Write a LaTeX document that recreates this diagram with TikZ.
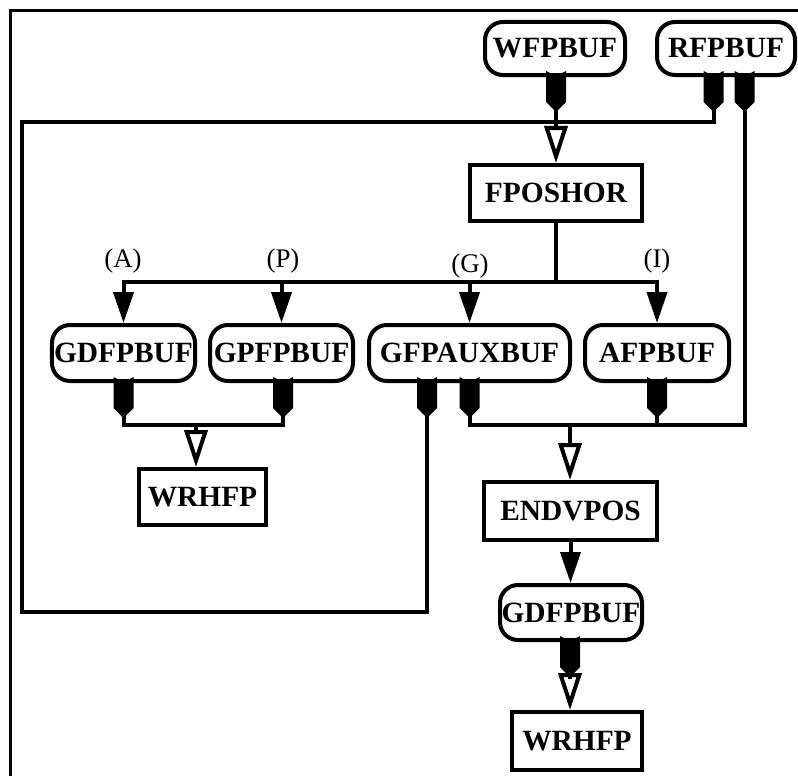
\documentclass[tikz,border=0pt]{standalone}
\usepackage{fontspec}
\setmainfont{Liberation Serif}
\usetikzlibrary{arrows.meta}
\tikzset{
  bx/.style={draw, line width=4bp, font=\bfseries\fontsize{29.5}{31}\selectfont, inner sep=0pt, align=center},
  rbox/.style={bx, rounded corners=18bp},
  sbox/.style={bx},
  conn/.style={line width=4bp, line cap=rect, line join=miter},
  filledarr/.style={conn, -{Triangle[width=20bp,length=31bp]}},
  openarr/.style={conn, -{Triangle[open,width=23bp,length=37bp]}},
  lbl/.style={font=\fontsize{27}{29}\selectfont, inner sep=0pt},
  outport/.pic={
    \fill (-10,-6) -- (0,-1) -- (10,-6) -- (10,25) -- (0,35) -- (-10,25) -- cycle;
    \coordinate (-tip) at (0,35);
  }
}
\begin{document}
\begin{tikzpicture}[x=1bp,y=-1bp]
\useasboundingbox (0,0) rectangle (798,776);
% frame
\draw[line width=3bp] (10.5,776) -- (10.5,11) -- (798,11);

% nodes
\node[rbox, minimum width=140bp, minimum height=53bp] (WFP) at (555,48.5) {WFPBUF};
\node[rbox, minimum width=138bp, minimum height=53bp] (RFP) at (726,48.5) {RFPBUF};
\node[sbox, minimum width=172bp, minimum height=56bp] (FPOS) at (556,193) {FPOSHOR};
\node[rbox, minimum width=143bp, minimum height=56bp] (GDFP) at (123.5,353) {GDFPBUF};
\node[rbox, minimum width=143bp, minimum height=56bp] (GPFP) at (281.5,353) {GPFPBUF};
\node[rbox, minimum width=201bp, minimum height=56bp] (GFPAUX) at (469.5,353) {GFPAUXBUF};
\node[rbox, minimum width=144bp, minimum height=56bp] (AFP) at (657,353) {AFPBUF};
\node[sbox, minimum width=127bp, minimum height=56bp] (WR) at (202.5,497) {WRHFP};
\node[sbox, minimum width=173bp, minimum height=58bp] (ENDV) at (570.5,511) {ENDVPOS};
\node[rbox, minimum width=142bp, minimum height=55bp] (GD2) at (571,612.5) {GDFPBUF};
\node[sbox, minimum width=130bp, minimum height=58bp] (WR2) at (577,741) {WRHFP};

% labels
\node[lbl] (lA) at (123,261) {(A)};
\node[lbl] (lP) at (283,261) {(P)};
\node[lbl] (lG) at (470,266) {(G)};
\node[lbl] (lI) at (657,261) {(I)};

% ports
\pic (pW) at ([xshift=1bp]WFP.south) {outport};
\pic (pRl) at ([xshift=-12.5bp]RFP.south) {outport};
\pic (pRr) at ([xshift=18.5bp]RFP.south) {outport};
\pic (pGD) at (GDFP.south) {outport};
\pic (pGP) at ([xshift=1.5bp]GPFP.south) {outport};
\pic (pGl) at ([xshift=-42.5bp]GFPAUX.south) {outport};
\pic (pGr) at (GFPAUX.south) {outport};
\pic (pAF) at (AFP.south) {outport};
\pic (pG2) at ([xshift=-1bp]GD2.south) {outport};

% coordinates
\coordinate (bus) at (556,282);
\coordinate (lbus) at (196,425);
\coordinate (rbus) at (570,425);
\coordinate (loopTL) at (22,122);
\coordinate (loopBL) at (22,612);

% top
\draw[openarr] (pW-tip) -- (pW-tip |- FPOS.north);
\draw[conn] (FPOS.south) -- (bus);
\draw[conn] (bus -| GDFP.north) -- (bus -| AFP.north);
\draw[filledarr] (bus -| GDFP.north) -- (GDFP.north);
\draw[filledarr] (bus -| GPFP.north) -- (GPFP.north);
\draw[filledarr] (bus -| GFPAUX.north) -- (GFPAUX.north);
\draw[filledarr] (bus -| AFP.north) -- (AFP.north);

% loop
\draw[conn] (pRl-tip) |- (loopTL) -- (loopBL) -| (pGl-tip);

% left bus
\draw[conn] (pGD-tip) |- (pGP-tip |- lbus) -- (pGP-tip);
\draw[openarr] (lbus) -- (lbus |- WR.north);

% right bus
\draw[conn] (pRr-tip) |- (pGr-tip |- rbus) -- (pGr-tip);
\draw[conn] (pAF-tip) -- (pAF-tip |- rbus);
\draw[openarr] (rbus) -- (rbus |- ENDV.north);

% bottom chain
\draw[filledarr] (ENDV.south) -- (ENDV.south |- GD2.north);
\draw[openarr] (pG2-tip) -- (pG2-tip |- WR2.north);
\end{tikzpicture}
\end{document}
